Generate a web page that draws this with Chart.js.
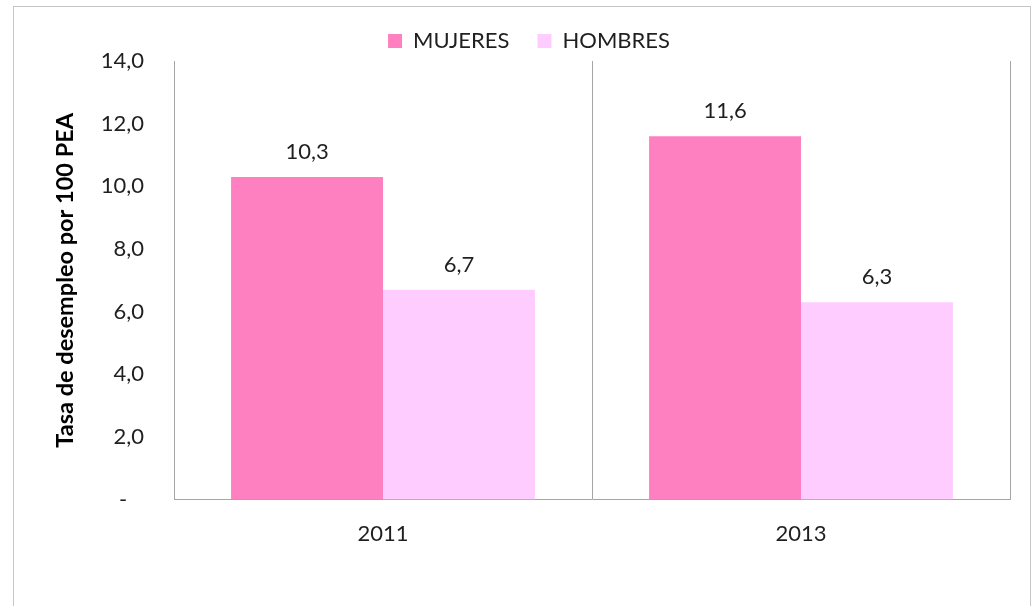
<!DOCTYPE html>
<html>
<head>
<meta charset="utf-8">
<script src="https://cdn.jsdelivr.net/npm/chart.js@4.4.1/dist/chart.umd.min.js"></script>
<style>
    html, body { margin: 0; padding: 0; background: #fff; }
    #wrap { position: relative; width: 1033px; height: 606px; overflow: hidden; }
    #frame {
        position: absolute; left: 13px; top: 6px; width: 1016px; height: 700px;
        border: 1px solid #c6c6c6; pointer-events: none;
    }
    canvas { position: absolute; left: 0; top: 0; }
</style>
</head>
<body>
<div id="wrap">
    <canvas id="chart" width="1033" height="606"></canvas>
    <div id="frame"></div>
</div>
<script>
// datos del grafico
const years = ['2011', '2013'];
const mujeres = [10.3, 11.6];
const hombres = [6.7, 6.3];
const yTicks = [0, 2, 4, 6, 8, 10, 12, 14];

const FONT = 'Lato, "Open Sans", sans-serif';

function fmt(v) {
    return v.toFixed(1).replace('.', ',');
}

// etiquetas encima de las barras
const barLabels = {
    id: 'barLabels',
    afterDatasetsDraw(chart) {
        const ctx = chart.ctx;
        ctx.save();
        ctx.font = '22px ' + FONT;
        ctx.fillStyle = '#1f1f1f';
        ctx.textAlign = 'center';
        ctx.textBaseline = 'middle';
        chart.data.datasets.forEach((ds, i) => {
            chart.getDatasetMeta(i).data.forEach((bar, j) => {
                ctx.fillText(fmt(ds.data[j]), bar.x, bar.y - 25);
            });
        });
        ctx.restore();
    }
};

// altura fija de la leyenda
const legendHeight = {
    id: 'legendHeight',
    beforeUpdate(chart) {
        if (chart.legend && !chart.legend._patched) {
            const fit = chart.legend.fit;
            chart.legend.fit = function () {
                fit.call(this);
                this.height = 59;
            };
            chart.legend._patched = true;
        }
    }
};

const ctx = document.getElementById('chart').getContext('2d');
new Chart(ctx, {
    type: 'bar',
    data: {
        labels: years,
        datasets: [
            {
                label: 'MUJERES',
                data: mujeres,
                backgroundColor: '#ff80c0',
                borderWidth: 0,
                categoryPercentage: 0.727,
                barPercentage: 1
            },
            {
                label: 'HOMBRES',
                data: hombres,
                backgroundColor: '#ffccff',
                borderWidth: 0,
                categoryPercentage: 0.727,
                barPercentage: 1
            }
        ]
    },
    options: {
        responsive: false,
        animation: false,
        layout: {
            padding: { left: 48, right: 23, top: 2, bottom: 38 }
        },
        scales: {
            x: {
                offset: true,
                grid: {
                    display: true,
                    offset: true,
                    drawTicks: false,
                    color: '#a6a6a6',
                    lineWidth: 1
                },
                border: { display: true, color: '#a6a6a6' },
                ticks: {
                    padding: 21,
                    color: '#1f1f1f',
                    font: { family: FONT, size: 22 }
                }
            },
            y: {
                min: 0,
                max: 14,
                afterBuildTicks(scale) {
                    scale.ticks = yTicks.map(v => ({ value: v }));
                },
                afterFit(scale) {
                    scale.width = 126;
                },
                grid: { display: false, drawTicks: false },
                border: { display: true, color: '#a6a6a6' },
                ticks: {
                    padding: 30,
                    color: '#1f1f1f',
                    font: { family: FONT, size: 22 },
                    callback: function (value) {
                        return value === 0 ? '-   ' : fmt(value);
                    }
                },
                title: {
                    display: true,
                    text: 'Tasa de desempleo por 100 PEA',
                    color: '#000',
                    padding: { top: 3, bottom: 0 },
                    font: { family: FONT, size: 23.5, weight: 'bold' }
                }
            }
        },
        plugins: {
            legend: {
                position: 'top',
                labels: {
                    boxWidth: 14,
                    boxHeight: 14,
                    padding: 28,
                    color: '#1f1f1f',
                    font: { family: FONT, size: 22 }
                }
            },
            tooltip: { enabled: false }
        }
    },
    plugins: [barLabels, legendHeight]
});
</script>
</body>
</html>
